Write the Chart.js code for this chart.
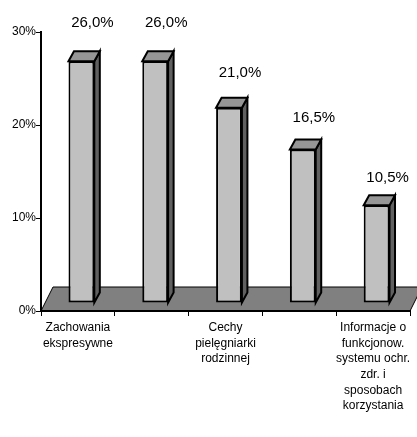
<!DOCTYPE html>
<html>
<head>
<meta charset="utf-8">
<script src="https://cdn.jsdelivr.net/npm/chart.js@4/dist/chart.umd.min.js"></script>
<style>
html,body{margin:0;padding:0;background:#fff;}
#wrap{width:417px;height:437px;}
</style>
</head>
<body>
<div id="wrap"><canvas id="c" width="417" height="437"></canvas></div>
<script>
const categories = [
  ["Zachowania", "ekspresywne"],
  "",
  ["Cechy", "pielęgniarki", "rodzinnej"],
  "",
  ["Informacje o", "funkcjonow.", "systemu ochr.", "zdr. i", "sposobach", "korzystania"]
];
const values = [26.0, 26.0, 21.0, 16.5, 10.5];
const valueLabels = ["26,0%", "26,0%", "21,0%", "16,5%", "10,5%"];
const yTicks = [0, 10, 20, 30];

const FONT = '"Liberation Sans", Arial, sans-serif';
const FLOOR = {dx: 12, dy: -24};
const SHIFT = {dx: 3.5, dy: -8};
const DEPTH = {dx: 5.5, dy: -10};

const threeD = {
  id: 'threeD',
  beforeDraw(chart) {
    const ctx = chart.ctx, a = chart.chartArea;
    ctx.save();
    ctx.beginPath();
    ctx.moveTo(a.left, a.bottom);
    ctx.lineTo(a.right, a.bottom);
    ctx.lineTo(a.right + FLOOR.dx, a.bottom + FLOOR.dy);
    ctx.lineTo(a.left + FLOOR.dx, a.bottom + FLOOR.dy);
    ctx.closePath();
    ctx.fillStyle = '#808080';
    ctx.fill();
    ctx.lineWidth = 1;
    ctx.strokeStyle = '#000';
    ctx.stroke();
    ctx.restore();
  },
  beforeDatasetsDraw(chart) {
    const ctx = chart.ctx;
    ctx.save();
    ctx.translate(SHIFT.dx, SHIFT.dy);
    const meta = chart.getDatasetMeta(0);
    meta.data.forEach(el => {
      const p = el.getProps(['x', 'y', 'base', 'width'], true);
      const l = p.x - p.width / 2, r = p.x + p.width / 2;
      ctx.lineWidth = 2;
      ctx.lineJoin = 'miter';
      ctx.strokeStyle = '#000';
      // side face
      ctx.beginPath();
      ctx.moveTo(r, p.y);
      ctx.lineTo(r + DEPTH.dx, p.y + DEPTH.dy);
      ctx.lineTo(r + DEPTH.dx, p.base + DEPTH.dy);
      ctx.lineTo(r, p.base);
      ctx.closePath();
      ctx.fillStyle = '#606060';
      ctx.fill();
      ctx.stroke();
      // top face
      ctx.beginPath();
      ctx.moveTo(l, p.y);
      ctx.lineTo(l + DEPTH.dx, p.y + DEPTH.dy);
      ctx.lineTo(r + DEPTH.dx, p.y + DEPTH.dy);
      ctx.lineTo(r, p.y);
      ctx.closePath();
      ctx.fillStyle = '#969696';
      ctx.fill();
      ctx.stroke();
    });
  },
  afterDatasetsDraw(chart) {
    const ctx = chart.ctx;
    ctx.restore();
    const meta = chart.getDatasetMeta(0);
    ctx.save();
    ctx.font = '15px ' + FONT;
    ctx.fillStyle = '#000';
    ctx.textAlign = 'center';
    ctx.textBaseline = 'middle';
    meta.data.forEach((el, i) => {
      const p = el.getProps(['x', 'y', 'base'], true);
      const top = p.y + SHIFT.dy;
      const off = 21 + 0.07 * (p.base - p.y);
      ctx.fillText(valueLabels[i], p.x + SHIFT.dx + 11, top - off);
    });
    ctx.restore();
  }
};

new Chart(document.getElementById('c'), {
  type: 'bar',
  data: {
    labels: categories,
    datasets: [{
      data: values,
      backgroundColor: '#C0C0C0',
      borderColor: '#000',
      borderWidth: 2,
      borderSkipped: false,
      barPercentage: 0.35,
      categoryPercentage: 1
    }]
  },
  options: {
    responsive: false,
    devicePixelRatio: 1,
    animation: false,
    layout: {padding: {top: 32, right: 7, left: 0, bottom: 0}},
    plugins: {legend: {display: false}, tooltip: {enabled: false}},
    scales: {
      x: {
        grid: {display: true, drawOnChartArea: false, drawTicks: true, tickLength: 5, color: '#000', lineWidth: 1, offset: true},
        border: {display: true, color: '#000', width: 2},
        ticks: {autoSkip: false, maxRotation: 0, minRotation: 0, padding: 4, color: '#000', font: {family: FONT, size: 12, lineHeight: 1.3}},
        afterFit(s) { s.height = 126; }
      },
      y: {
        min: 0, max: 30,
        grid: {display: true, drawOnChartArea: false, drawTicks: true, tickLength: 5, color: '#000', lineWidth: 1},
        border: {display: true, color: '#000', width: 2},
        afterBuildTicks(s) { s.ticks = yTicks.map(v => ({value: v})); },
        ticks: {padding: 0, color: '#000', font: {family: FONT, size: 12}, callback: v => v + '%'},
        afterFit(s) { s.width = 41; }
      }
    }
  },
  plugins: [threeD]
});
</script>
</body>
</html>
